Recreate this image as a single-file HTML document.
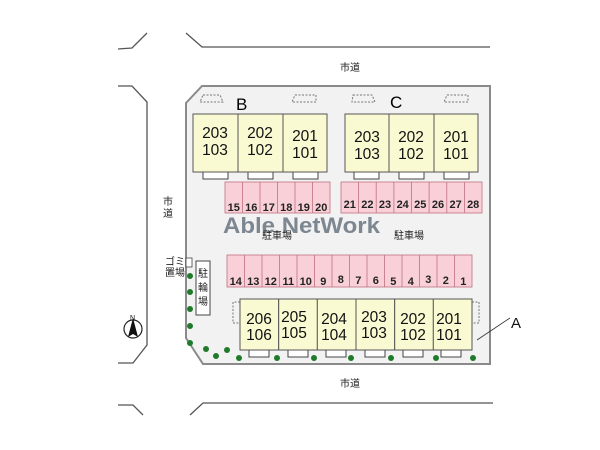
<!DOCTYPE html>
<html><head><meta charset="utf-8"><style>
html,body{margin:0;padding:0;background:#fff;}
svg{display:block;}
text{font-family:"Liberation Sans","Noto Sans CJK JP",sans-serif;}
</style></head><body>
<svg width="600" height="450" viewBox="0 0 600 450" xmlns="http://www.w3.org/2000/svg">
<g fill="none" stroke="#555" stroke-width="1.3">
<polyline points="118,49 132,48 147,33"/>
<polyline points="186,33 202,47 490,47"/>
<polyline points="118,86 132,86 147,102 147,345 133,363 118,363"/>
<polyline points="118,405 133,405 143,415"/>
<polyline points="190,415 203,403 493,403"/>
</g>
<polygon points="202,86 490,86 490,364 203,364 186,338 186,103" fill="#f2f2f2" stroke="#8a8a8a" stroke-width="2"/>
<g fill="none" stroke="#777" stroke-width="1" stroke-dasharray="2,1.5">
<polygon points="203,95 220,95 223,102 200,102"/>
<polygon points="295,95 316,95 316,102 292,102"/>
<polygon points="353,95 372,95 375,102 352,102"/>
<polygon points="447,95 468,95 468,102 444,102"/>
<polyline points="240,302 233,302 233,323 240,323"/>
<polyline points="472,302 479,302 479,323 472,323"/>
</g>
<text x="236" y="110" font-size="17">B</text>
<text x="390" y="108" font-size="17">C</text>
<g fill="#fff" stroke="#444" stroke-width="1">
<rect x="203" y="172" width="25" height="7"/><rect x="248" y="172" width="25" height="7"/><rect x="293" y="172" width="25" height="7"/>
<rect x="354" y="172" width="25" height="7"/><rect x="399" y="172" width="25" height="7"/><rect x="444" y="172" width="25" height="7"/>
<rect x="249" y="350" width="20" height="7"/><rect x="288" y="350" width="20" height="7"/><rect x="326" y="350" width="20" height="7"/><rect x="365" y="350" width="20" height="7"/><rect x="403" y="350" width="20" height="7"/><rect x="441" y="350" width="20" height="7"/>
</g>
<g fill="#fafad2" stroke="#555" stroke-width="1">
<rect x="193" y="114" width="45" height="58"/><rect x="238" y="114" width="45" height="58"/><rect x="283" y="114" width="44" height="58"/>
<rect x="345" y="114" width="44" height="58"/><rect x="389" y="114" width="45" height="58"/><rect x="434" y="114" width="44" height="58"/>
<rect x="240" y="299" width="38.7" height="51"/><rect x="278.7" y="299" width="38.7" height="51"/><rect x="317.3" y="299" width="38.7" height="51"/><rect x="356" y="299" width="38.7" height="51"/><rect x="394.7" y="299" width="38.7" height="51"/><rect x="433.3" y="299" width="38.7" height="51"/>
</g>
<g font-size="15.5" fill="#111" text-anchor="middle">
<text x="215" y="138">203</text><text x="215" y="155">103</text>
<text x="260" y="138">202</text><text x="260" y="155">102</text>
<text x="305" y="141">201</text><text x="305" y="158">101</text>
<text x="367" y="142">203</text><text x="367" y="159">103</text>
<text x="411" y="142">202</text><text x="411" y="159">102</text>
<text x="456" y="142">201</text><text x="456" y="159">101</text>
<text x="259" y="324">206</text><text x="259" y="340">106</text>
<text x="294" y="322">205</text><text x="294" y="338">105</text>
<text x="334" y="324">204</text><text x="334" y="340">104</text>
<text x="374" y="322">203</text><text x="374" y="338">103</text>
<text x="413" y="324">202</text><text x="413" y="340">102</text>
<text x="449" y="324">201</text><text x="449" y="340">101</text>
</g>
<g fill="#f9d0d8" stroke="#c07080" stroke-width="0.8">
<rect x="225" y="182" width="105" height="31"/>
<rect x="341" y="182" width="141" height="31"/>
<rect x="227" y="255" width="245" height="32"/>
</g>
<g stroke="#c07080" stroke-width="0.8">
<path d="M242.5,182v31M260,182v31M277.5,182v31M295,182v31M312.5,182v31"/>
<path d="M358.6,182v31M376.2,182v31M393.9,182v31M411.5,182v31M429.1,182v31M446.8,182v31M464.4,182v31"/>
<path d="M244.5,255v32M262,255v32M279.5,255v32M297,255v32M314.5,255v32M332,255v32M349.5,255v32M367,255v32M384.5,255v32M402,255v32M419.5,255v32M437,255v32M454.5,255v32"/>
</g>
<g font-size="11" font-weight="bold" fill="#222" text-anchor="middle">
<text x="233.8" y="211">15</text><text x="251.3" y="211">16</text><text x="268.8" y="211">17</text><text x="286.3" y="211">18</text><text x="303.8" y="211">19</text><text x="321.3" y="211">20</text>
<text x="349.8" y="208">21</text><text x="367.4" y="208">22</text><text x="385" y="208">23</text><text x="402.7" y="208">24</text><text x="420.3" y="208">25</text><text x="438" y="208">26</text><text x="455.6" y="208">27</text><text x="473.2" y="208">28</text>
<text x="235.8" y="285">14</text><text x="253.3" y="285">13</text><text x="270.8" y="285">12</text><text x="288.3" y="285">11</text><text x="305.8" y="285">10</text><text x="323.3" y="285">9</text><text x="340.8" y="283">8</text><text x="358.3" y="284">7</text><text x="375.8" y="284">6</text><text x="393.3" y="285">5</text><text x="410.8" y="285">4</text><text x="428.3" y="283">3</text><text x="445.8" y="284">2</text><text x="463.3" y="285">1</text>
</g>
<text x="223" y="233" font-size="22" font-weight="bold" fill="#7d8791" font-family="Liberation Sans,sans-serif" textLength="157" lengthAdjust="spacingAndGlyphs">Able NetWork</text>
<g font-size="10" fill="#222">
<text x="262" y="239">駐車場</text><text x="394" y="239">駐車場</text>
<text x="340" y="71">市道</text><text x="340" y="387">市道</text>
<text x="163" y="205">市</text><text x="163" y="217">道</text>
<text x="165" y="265">ゴミ</text><text x="165" y="276">置場</text>
</g>
<rect x="186" y="258" width="6" height="9" fill="#fff" stroke="#444" stroke-width="0.8"/>
<rect x="196" y="261" width="14" height="54" fill="#fff" stroke="#444" stroke-width="1"/>
<g font-size="10" fill="#222" text-anchor="middle"><text x="203" y="277">駐</text><text x="203" y="291">輪</text><text x="203" y="305">場</text></g>
<g fill="#1f7a2a">
<circle cx="190" cy="276" r="3"/><circle cx="190" cy="292" r="3"/><circle cx="190" cy="309" r="3"/><circle cx="190" cy="326" r="3"/><circle cx="190" cy="343" r="3"/>
<circle cx="206" cy="349" r="3"/><circle cx="216" cy="356" r="3"/><circle cx="227" cy="350" r="3"/><circle cx="239" cy="358" r="3"/><circle cx="277" cy="358" r="3"/><circle cx="314" cy="358" r="3"/><circle cx="351" cy="358" r="3"/><circle cx="391" cy="358" r="3"/><circle cx="436" cy="358" r="3"/><circle cx="473" cy="358" r="3"/>
</g>
<circle cx="133" cy="329" r="9" fill="#fff" stroke="#222" stroke-width="1.2"/>
<polygon points="133,318 128,337 133,334 138,337" fill="#111"/>
<text x="130" y="320" font-size="7" fill="#111">N</text>
<line x1="477" y1="340" x2="510" y2="318" stroke="#333" stroke-width="0.8"/>
<text x="511" y="328" font-size="15" fill="#111">A</text>
</svg>
</body></html>
